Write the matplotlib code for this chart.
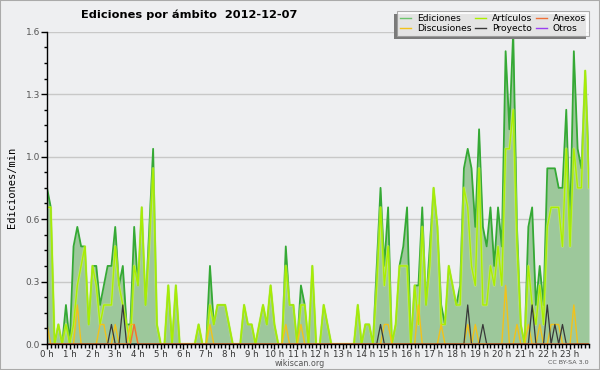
import numpy as np
import matplotlib
matplotlib.use("Agg")
import matplotlib.pyplot as plt
from matplotlib.lines import Line2D
from matplotlib.patches import Rectangle

# 10-minute bins (144 per day), values in edits per minute
ediciones = [
    0.8, 0.7, 0.0, 0.1, 0.0, 0.2, 0.0, 0.5, 0.6, 0.5, 0.5, 0.1,
    0.4, 0.4, 0.2, 0.3, 0.4, 0.4, 0.6, 0.3, 0.4, 0.1, 0.1, 0.6,
    0.3, 0.7, 0.2, 0.6, 1.0, 0.1, 0.0, 0.0, 0.3, 0.0, 0.3, 0.0,
    0.0, 0.0, 0.0, 0.0, 0.1, 0.0, 0.0, 0.4, 0.1, 0.2, 0.2, 0.2,
    0.1, 0.0, 0.0, 0.0, 0.2, 0.1, 0.1, 0.0, 0.1, 0.2, 0.1, 0.3,
    0.1, 0.0, 0.0, 0.5, 0.2, 0.2, 0.0, 0.3, 0.2, 0.0, 0.4, 0.0,
    0.0, 0.2, 0.1, 0.0, 0.0, 0.0, 0.0, 0.0, 0.0, 0.0, 0.2, 0.0,
    0.1, 0.1, 0.0, 0.4, 0.8, 0.4, 0.7, 0.0, 0.1, 0.4, 0.5, 0.7,
    0.0, 0.3, 0.3, 0.7, 0.2, 0.5, 0.8, 0.6, 0.2, 0.1, 0.4, 0.3,
    0.2, 0.3, 0.9, 1.0, 0.9, 0.6, 1.1, 0.6, 0.5, 0.7, 0.4, 0.7,
    0.5, 1.5, 1.1, 1.6, 0.6, 0.1, 0.0, 0.6, 0.7, 0.2, 0.4, 0.2,
    0.9, 0.9, 0.9, 0.8, 0.8, 1.2, 0.6, 1.5, 1.0, 0.9, 1.4, 0.9,
]
articulos = [
    0.7, 0.7, 0.0, 0.1, 0.0, 0.1, 0.0, 0.1, 0.3, 0.4, 0.5, 0.1,
    0.4, 0.3, 0.1, 0.2, 0.2, 0.2, 0.5, 0.3, 0.2, 0.1, 0.0, 0.4,
    0.3, 0.7, 0.2, 0.5, 0.9, 0.1, 0.0, 0.0, 0.3, 0.0, 0.3, 0.0,
    0.0, 0.0, 0.0, 0.0, 0.1, 0.0, 0.0, 0.2, 0.1, 0.2, 0.2, 0.2,
    0.1, 0.0, 0.0, 0.0, 0.2, 0.1, 0.1, 0.0, 0.1, 0.2, 0.1, 0.3,
    0.1, 0.0, 0.0, 0.4, 0.2, 0.2, 0.0, 0.2, 0.2, 0.0, 0.4, 0.0,
    0.0, 0.2, 0.1, 0.0, 0.0, 0.0, 0.0, 0.0, 0.0, 0.0, 0.2, 0.0,
    0.1, 0.1, 0.0, 0.3, 0.7, 0.3, 0.5, 0.0, 0.1, 0.4, 0.4, 0.4,
    0.0, 0.3, 0.1, 0.6, 0.2, 0.4, 0.8, 0.6, 0.1, 0.1, 0.4, 0.3,
    0.2, 0.2, 0.8, 0.7, 0.4, 0.3, 0.9, 0.2, 0.2, 0.4, 0.3, 0.5,
    0.3, 1.0, 1.0, 1.2, 0.5, 0.1, 0.0, 0.4, 0.2, 0.1, 0.3, 0.1,
    0.6, 0.7, 0.7, 0.7, 0.5, 1.0, 0.5, 1.0, 0.8, 0.8, 1.4, 0.8,
]
# sparse series: {bin index: value}
discusiones_pts = {0: 0.1, 8: 0.2, 14: 0.1, 15: 0.1, 18: 0.1, 22: 0.1, 23: 0.1,
                   43: 0.1, 63: 0.1, 67: 0.1, 89: 0.1, 90: 0.1, 98: 0.2,
                   104: 0.1, 111: 0.1, 113: 0.1, 121: 0.3, 124: 0.1, 127: 0.1,
                   130: 0.1, 133: 0.1, 134: 0.1, 135: 0.1, 139: 0.2}
proyecto_pts = {17: 0.1, 20: 0.2, 88: 0.1, 111: 0.2, 115: 0.1, 128: 0.2,
                132: 0.2, 134: 0.1, 136: 0.1}
anexos_pts = {23: 0.1}
otros_pts = {}

hour_labels = [f"{h} h" for h in range(24)]
y_ticks = [0.0, 0.32, 0.64, 0.96, 1.28, 1.6]

n = len(ediciones)
def dense(pts):
    arr = np.zeros(n)
    for k, v in pts.items():
        arr[k] = v
    return arr

x = np.arange(n) / 6.0
E = np.array(ediciones)
A = np.array(articulos)
D = dense(discusiones_pts)
P = dense(proyecto_pts)
AN = dense(anexos_pts)
OT = dense(otros_pts)

BG = "#eeeff1"
W, H = 600, 370
fig = plt.figure(figsize=(6.0, 3.7), dpi=100, facecolor=BG)
ax = fig.add_axes([47/W, 26/H, 542/W, 312.3/H])
ax.set_facecolor(BG)

c_ed_fill = "#9dc89b"
c_ed_line = "#35a935"
c_art = "#aaee00"
c_dis = "#f2c21a"
c_pro = "#383838"
c_anx = "#f07038"
c_otr = "#9b40f0"

ax.fill_between(x, 0, E, color=c_ed_fill, lw=0, zorder=2)
ax.plot(x, E, color=c_ed_line, lw=1.3, zorder=3)
ax.plot(x, A, color="#d8ff60", lw=2.0, alpha=0.5, zorder=4)
ax.plot(x, A, color=c_art, lw=1.0, zorder=5)
ax.plot(x, D, color=c_dis, lw=1.0, zorder=6)
ax.plot(x, P, color=c_pro, lw=0.9, zorder=7)
ax.plot(x, AN, color=c_anx, lw=1.0, zorder=8)

ax.set_xlim(0, (n - 1) / 6.0)
ax.set_ylim(0, 1.6)

for s in ["top", "right"]:
    ax.spines[s].set_visible(False)
for s in ["left", "bottom"]:
    ax.spines[s].set_color("black")
    ax.spines[s].set_linewidth(1.0)
ax.spines["left"].set_zorder(10)
ax.spines["bottom"].set_zorder(10)

ax.set_xticks(np.arange(24))
ax.set_xticklabels(hour_labels)
ax.set_xticks(np.arange(n) / 6.0, minor=True)
ax.set_yticks(y_ticks)
ax.set_yticklabels([f"{v:.1f}" for v in y_ticks])
ax.set_yticks(np.arange(0, 1.601, 0.08), minor=True)
ax.tick_params(axis="x", which="major", length=3.5, width=1, pad=0.5,
               labelsize=6.2, colors="black", labelcolor="#333333")
ax.tick_params(axis="x", which="minor", length=3, width=1)
ax.tick_params(axis="y", which="major", length=4, width=1, pad=1,
               labelsize=6.5, labelcolor="#555555")
ax.tick_params(axis="y", which="minor", length=2.5, width=1)

ax.yaxis.grid(True, which="major", color="#c8c8c8", lw=1.0, zorder=1)
ax.set_axisbelow(True)

ax.set_ylabel("Ediciones/min", family="DejaVu Sans Mono", fontsize=7.5,
              labelpad=6, color="black")

fig.text(189/W, 1 - 15/H, "Ediciones por ámbito  2012-12-07",
         ha="center", va="center", fontsize=8.2, fontweight="bold")
fig.text(300/W, 1 - 363/H, "wikiscan.org", ha="center", va="center",
         fontsize=5.8, color="#555555")
fig.text(589/W, 1 - 363/H, "CC BY-SA 3.0", ha="right", va="center",
         fontsize=4.6, color="#555555")

handles = [
    Line2D([], [], color="#6cc46c", lw=1),
    Line2D([], [], color=c_dis, lw=1),
    Line2D([], [], color=c_art, lw=1),
    Line2D([], [], color=c_pro, lw=1),
    Line2D([], [], color=c_anx, lw=1),
    Line2D([], [], color=c_otr, lw=1),
]
labels = ["Ediciones", "Discusiones", "Artículos", "Proyecto", "Anexos", "Otros"]
leg = fig.legend(handles, labels, ncol=3, loc="upper right",
                 bbox_to_anchor=(589/W, 1 - 11/H), fontsize=6.6,
                 frameon=True, fancybox=False, shadow=False,
                 handlelength=1.2, handletextpad=0.6, columnspacing=0.45,
                 labelspacing=0.08, borderpad=0.35, borderaxespad=0)
leg.get_frame().set_edgecolor("#999999")
leg.get_frame().set_facecolor("white")
leg.get_frame().set_linewidth(0.8)
leg.set_zorder(20)

# shadow offset to the lower-left, as in the reference
fig.canvas.draw()
bb = leg.get_window_extent()
shadow = Rectangle(((bb.x0 - 3) / W, (bb.y0 - 3) / H), bb.width / W, bb.height / H,
                   transform=fig.transFigure, facecolor="#7a7a7a",
                   edgecolor="none", zorder=15)
fig.add_artist(shadow)

fig.patches.append(Rectangle((0, 0), 1, 1, transform=fig.transFigure,
                             fill=False, edgecolor="#aaaaaa", lw=1.5))

fig.savefig("out.png", dpi=100, facecolor=BG)
